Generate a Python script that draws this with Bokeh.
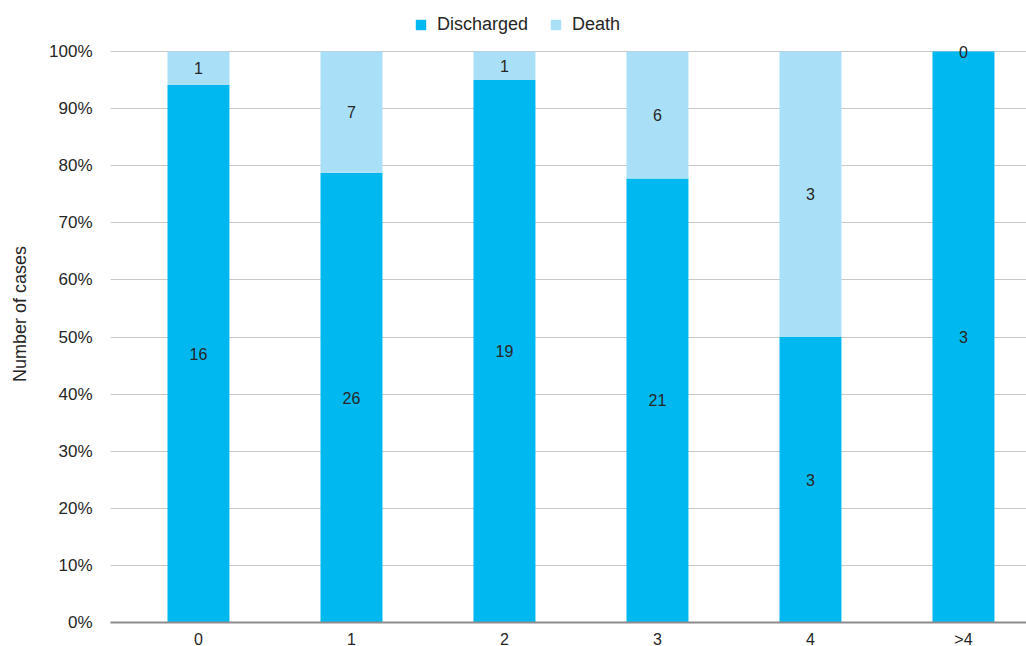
from bokeh.plotting import figure
from bokeh.models import ColumnDataSource, Legend, LegendItem, NumeralTickFormatter, FixedTicker, Range1d
from bokeh.core.properties import value
from bokeh.embed import file_html
from bokeh.resources import INLINE

categories = ["0", "1", "2", "3", "4", ">4"]
discharged = [16, 26, 19, 21, 3, 3]
death = [1, 7, 1, 6, 3, 0]

tot = [a + b for a, b in zip(discharged, death)]
dis_pct = [a / t for a, t in zip(discharged, tot)]
xpos = [i + 0.5 for i in range(len(categories))]

src = ColumnDataSource(dict(
    x=xpos, dis=dis_pct, top=[1.0] * len(categories),
    dis_mid=[d / 2 for d in dis_pct],
    death_mid=[(d + 1) / 2 if dd > 0 else 1.0 for d, dd in zip(dis_pct, death)],
    dis_lbl=[str(v) for v in discharged],
    death_lbl=[str(v) for v in death],
))

FONT = "Liberation Sans"
TXT = "#262626"
p = figure(x_range=Range1d(-0.075, 5.912), y_range=Range1d(0, 1.0806),
           frame_width=916, frame_height=617,
           output_backend="svg", toolbar_location=None,
           min_border_left=110, min_border_right=0, min_border_top=5, min_border_bottom=24)
p.outline_line_color = None

r1 = p.vbar(x="x", bottom=0, top="dis", width=0.405, source=src,
            fill_color="#00b8f0", line_color=None)
r2 = p.vbar(x="x", bottom="dis", top="top", width=0.405, source=src,
            fill_color="#aadff8", line_color=None)

p.text(x="x", y="dis_mid", text="dis_lbl", source=src, text_align="center",
       text_baseline="middle", text_font=value(FONT), text_font_size="16px", text_color=TXT)
p.text(x="x", y="death_mid", text="death_lbl", source=src, text_align="center",
       text_baseline="middle", text_font=value(FONT), text_font_size="16px", text_color=TXT)

p.yaxis.ticker = FixedTicker(ticks=[i / 10 for i in range(11)])
p.yaxis.formatter = NumeralTickFormatter(format="0%")
p.yaxis.axis_line_color = None
p.yaxis.major_tick_line_color = None
p.yaxis.minor_tick_line_color = None
p.yaxis.axis_label = "Number of cases"
p.yaxis.axis_label_text_font = FONT
p.yaxis.axis_label_text_font_style = "normal"
p.yaxis.axis_label_text_font_size = "18px"
p.yaxis.axis_label_text_color = TXT
p.yaxis.axis_label_standoff = 16
p.yaxis.major_label_text_font = FONT
p.yaxis.major_label_text_font_size = "17px"
p.yaxis.major_label_text_color = TXT
p.yaxis.major_label_standoff = 12

p.xaxis.ticker = FixedTicker(ticks=xpos)
p.xaxis.major_label_overrides = {x: c for x, c in zip(xpos, categories)}
p.xaxis.axis_line_color = "#8c8c8c"
p.xaxis.axis_line_width = 2
p.xaxis.major_tick_line_color = None
p.xaxis.minor_tick_line_color = None
p.xaxis.major_label_text_font = FONT
p.xaxis.major_label_text_font_size = "16px"
p.xaxis.major_label_text_color = TXT
p.xaxis.major_label_standoff = 2

p.xgrid.grid_line_color = None
p.ygrid.grid_line_color = "#c8c8c8"
p.ygrid.grid_line_width = 1

legend = Legend(items=[LegendItem(label="Discharged", renderers=[r1]),
                       LegendItem(label="Death", renderers=[r2])],
                orientation="horizontal", location=(304, 587),
                label_text_font=FONT, label_text_font_size="18px", label_text_color=TXT,
                glyph_width=13, glyph_height=13, spacing=21, padding=4, margin=0,
                border_line_color=None, background_fill_alpha=0, label_standoff=10)
p.add_layout(legend, "center")

open("out.html", "w").write(file_html(p, INLINE))
